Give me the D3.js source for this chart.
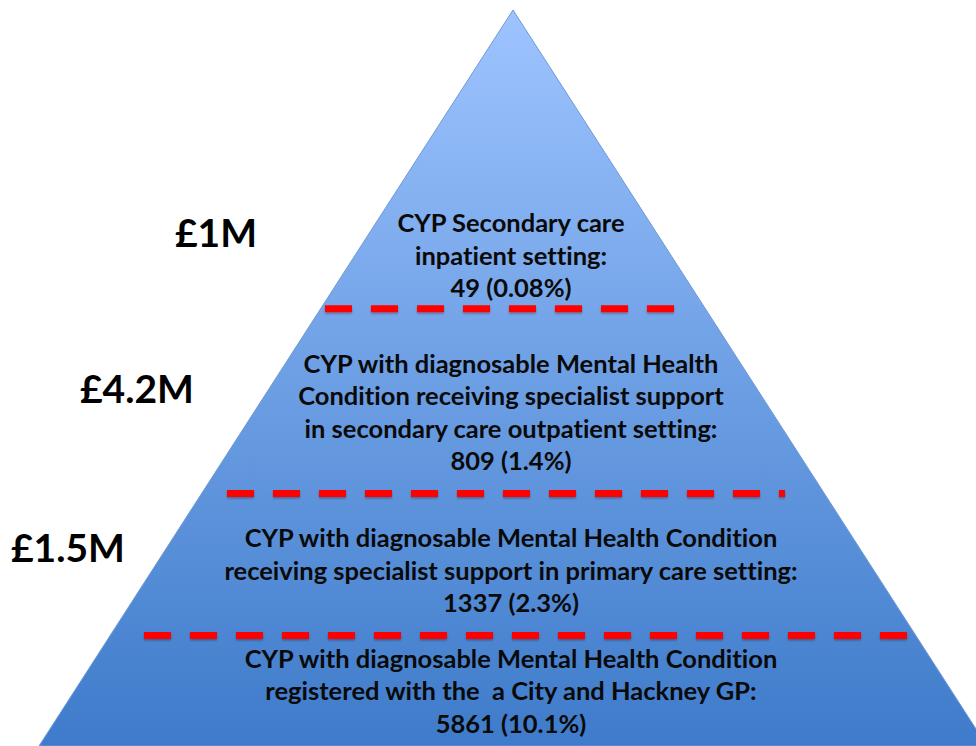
<!DOCTYPE html>
<html>
<head>
<meta charset="utf-8">
<script src="https://cdn.jsdelivr.net/npm/d3@7"></script>
<style>
  html, body { margin: 0; padding: 0; background: #ffffff; }
  svg { display: block; }
  text { white-space: pre; font-variant-ligatures: none; font-feature-settings: "liga" 0, "clig" 0; }
</style>
</head>
<body>
<svg id="chart" width="976" height="746"></svg>
<script>
// ---- data ----
const tierLines = [
  ["CYP Secondary care", "inpatient setting:"],
  ["CYP with diagnosable Mental Health", "Condition receiving specialist support", "in secondary care outpatient setting:"],
  ["CYP with diagnosable Mental Health Condition", "receiving specialist support in primary care setting:"],
  ["CYP with diagnosable Mental Health Condition", "registered with the  a City and Hackney GP:"]
];
const tierCounts = [49, 809, 1337, 5861];
const tierPercents = ["0.08%", "1.4%", "2.3%", "10.1%"];
const costLabels = ["£1M", "£4.2M", "£1.5M"];

// ---- layout ----
const W = 976, H = 746;
const svg = d3.select("#chart");
const apexY = 10, baseY = 746, cx = 513, slope = 0.644;
// vertical scale: pyramid fraction -> pixel
const y = d3.scaleLinear().domain([0, 1]).range([apexY, baseY]);
const halfW = frac => (y(frac) - apexY) * slope;

// divider levels (fraction of pyramid height) and dashed extents
const dividerLevels = [0.406, 0.657, 0.850];
const dividerExtents = [[325, 688], [227, 785], [144, 913]];
// text baseline of the first line for each tier (fraction)
const textTop = [0.302, 0.493, 0.730, 0.894];
const lineGap = 32.5;
const costPos = [[216, 0.322], [137, 0.534], [68, 0.750]];

const defs = svg.append("defs");
const grad = defs.append("linearGradient")
  .attr("id", "pyrGrad").attr("gradientUnits", "userSpaceOnUse")
  .attr("x1", 0).attr("x2", 0).attr("y1", y(0)).attr("y2", y(1));
grad.append("stop").attr("offset", "0%").attr("stop-color", "#9EC4FF");
grad.append("stop").attr("offset", "50%").attr("stop-color", "#6D9FE4");
grad.append("stop").attr("offset", "100%").attr("stop-color", "#3E7BCA");

const shadow = defs.append("filter").attr("id", "dashShadow")
  .attr("filterUnits", "userSpaceOnUse")
  .attr("x", 0).attr("y", 0).attr("width", W).attr("height", H);
shadow.append("feDropShadow").attr("dx", 0).attr("dy", 1.5).attr("stdDeviation", 1.2)
  .attr("flood-color", "#000").attr("flood-opacity", 0.3);

// pyramid
const pts = [[cx, y(0)], [cx + halfW(1) , y(1)], [cx - halfW(1), y(1)]];
svg.append("path")
  .attr("d", d3.line()(pts) + "Z")
  .attr("fill", "url(#pyrGrad)")
  .attr("stroke", "#6F98D6")
  .attr("stroke-width", 1);

// dashed dividers
svg.append("g").attr("filter", "url(#dashShadow)")
  .selectAll("line.div").data(dividerLevels).join("line")
  .attr("class", "div")
  .attr("x1", (d, i) => dividerExtents[i][0])
  .attr("x2", (d, i) => dividerExtents[i][1])
  .attr("y1", d => y(d)).attr("y2", d => y(d))
  .attr("stroke", "#FF0000")
  .attr("stroke-width", 7)
  .attr("stroke-dasharray", "27 19");

// tier texts
const font = "Lato, 'Open Sans', sans-serif";
tierLines.forEach((lines, i) => {
  const all = lines.concat([tierCounts[i] + " (" + tierPercents[i] + ")"]);
  const t = svg.append("text")
    .attr("text-anchor", "middle")
    .attr("font-family", font)
    .attr("font-weight", 700)
    .attr("font-size", 25.5)
    .attr("fill", "#0a0a0a");
  all.forEach((s, j) => {
    t.append("tspan").attr("x", 511).attr("y", y(textTop[i]) + j * lineGap).text(s);
  });
});

// cost labels
svg.selectAll("text.cost").data(costLabels).join("text")
  .attr("class", "cost")
  .attr("x", (d, i) => costPos[i][0])
  .attr("y", (d, i) => y(costPos[i][1]))
  .attr("text-anchor", "middle")
  .attr("font-family", font)
  .attr("font-weight", 700)
  .attr("font-size", 39)
  .attr("fill", "#000")
  .text(d => d);
</script>
</body>
</html>
